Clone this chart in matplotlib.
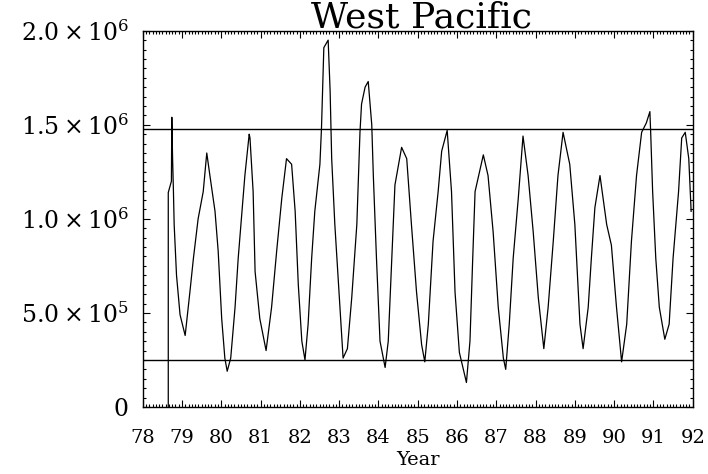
import matplotlib
matplotlib.use("Agg")
import matplotlib.pyplot as plt
from matplotlib.ticker import MultipleLocator

plt.rcParams['font.family'] = ['DejaVu Serif']
plt.rcParams['mathtext.fontset'] = 'dejavuserif'

title = "West Pacific"
xlabel = "Year"

years = [78.65, 78.65, 78.73, 78.74, 78.76, 78.78, 78.80, 78.86, 78.95, 79.08,
         79.20, 79.29, 79.41, 79.54, 79.63, 79.71, 79.84, 79.92, 80.01, 80.09,
         80.15, 80.24, 80.35, 80.43, 80.60, 80.71, 80.73, 80.81, 80.86, 80.98,
         81.14, 81.28, 81.41, 81.54, 81.66, 81.79, 81.88, 81.96, 82.05, 82.13,
         82.21, 82.30, 82.38, 82.51, 82.55, 82.61, 82.72, 82.77, 82.81, 82.89,
         83.02, 83.10, 83.21, 83.32, 83.45, 83.53, 83.57, 83.66, 83.74, 83.83,
         83.87, 83.95, 84.04, 84.17, 84.25, 84.34, 84.42, 84.59, 84.72, 84.84,
         84.97, 85.10, 85.18, 85.27, 85.39, 85.52, 85.61, 85.75, 85.86, 85.95,
         86.06, 86.24, 86.33, 86.40, 86.46, 86.67, 86.79, 86.92, 87.05, 87.18,
         87.24, 87.33, 87.43, 87.56, 87.68, 87.81, 87.94, 88.07, 88.21, 88.32,
         88.45, 88.57, 88.70, 88.87, 89.00, 89.13, 89.21, 89.34, 89.42, 89.51,
         89.64, 89.81, 89.93, 90.06, 90.19, 90.32, 90.44, 90.57, 90.70, 90.82,
         90.91, 90.93, 90.98, 91.06, 91.15, 91.29, 91.40, 91.50, 91.64, 91.72,
         91.81, 91.90, 91.96]

values = [0.0e6, 1.14e6, 1.20e6, 1.54e6, 1.32e6, 1.16e6, 0.97e6, 0.70e6, 0.49e6, 0.38e6,
          0.61e6, 0.79e6, 1.00e6, 1.145e6, 1.35e6, 1.23e6, 1.04e6, 0.83e6, 0.47e6, 0.26e6,
          0.19e6, 0.26e6, 0.53e6, 0.79e6, 1.23e6, 1.45e6, 1.43e6, 1.145e6, 0.72e6, 0.47e6,
          0.30e6, 0.53e6, 0.83e6, 1.11e6, 1.32e6, 1.29e6, 1.04e6, 0.65e6, 0.35e6, 0.25e6,
          0.44e6, 0.79e6, 1.04e6, 1.29e6, 1.48e6, 1.91e6, 1.95e6, 1.68e6, 1.32e6, 0.97e6,
          0.53e6, 0.26e6, 0.31e6, 0.58e6, 0.97e6, 1.46e6, 1.61e6, 1.70e6, 1.73e6, 1.50e6,
          1.23e6, 0.79e6, 0.35e6, 0.21e6, 0.35e6, 0.79e6, 1.18e6, 1.38e6, 1.32e6, 0.97e6,
          0.61e6, 0.33e6, 0.24e6, 0.44e6, 0.88e6, 1.145e6, 1.36e6, 1.47e6, 1.145e6, 0.61e6,
          0.29e6, 0.13e6, 0.35e6, 0.79e6, 1.145e6, 1.34e6, 1.23e6, 0.93e6, 0.53e6, 0.26e6,
          0.20e6, 0.44e6, 0.79e6, 1.11e6, 1.44e6, 1.23e6, 0.93e6, 0.58e6, 0.31e6, 0.53e6,
          0.88e6, 1.23e6, 1.46e6, 1.29e6, 0.97e6, 0.44e6, 0.31e6, 0.53e6, 0.79e6, 1.06e6,
          1.23e6, 0.97e6, 0.86e6, 0.53e6, 0.24e6, 0.44e6, 0.88e6, 1.23e6, 1.46e6, 1.51e6,
          1.57e6, 1.46e6, 1.145e6, 0.79e6, 0.53e6, 0.36e6, 0.44e6, 0.79e6, 1.145e6, 1.43e6,
          1.46e6, 1.32e6, 1.04e6]

upper_level = 1.48e6
lower_level = 0.25e6

xticks = list(range(78, 93))
xtick_labels = [str(y) for y in xticks]
yticks = [0, 0.5e6, 1.0e6, 1.5e6, 2.0e6]
ytick_labels = ['0', r'$5.0\times10^{5}$', r'$1.0\times10^{6}$',
                r'$1.5\times10^{6}$', r'$2.0\times10^{6}$']

fig = plt.figure(figsize=(7.08, 4.74), dpi=100)
ax = fig.add_axes([0.2016, 0.1414, 0.7768, 0.7938])

ax.plot(years, values, color='black', lw=0.9)
ax.axhline(upper_level, color='black', lw=1.0)
ax.axhline(lower_level, color='black', lw=1.0)

ax.set_xlim(78, 92)
ax.set_ylim(0, 2.0e6)
ax.set_xticks(xticks)
ax.set_xticklabels(xtick_labels, fontsize=14)
ax.set_yticks(yticks)
ax.set_yticklabels(ytick_labels, fontsize=17)
ax.xaxis.set_minor_locator(MultipleLocator(1 / 12))
ax.yaxis.set_minor_locator(MultipleLocator(5e4))
ax.tick_params(which='both', direction='in', top=True, right=True, width=0.8)
ax.tick_params(which='major', length=5)
ax.tick_params(which='minor', length=2.5)
ax.tick_params(axis='x', which='major', pad=16)
ax.tick_params(axis='y', which='major', pad=10)
for s in ax.spines.values():
    s.set_linewidth(1.0)

ax.set_xlabel(xlabel, fontsize=14, labelpad=3)
fig.text(0.595, 0.942, title, fontsize=26, ha='center', va='baseline')

fig.savefig('out.png', dpi=100)
